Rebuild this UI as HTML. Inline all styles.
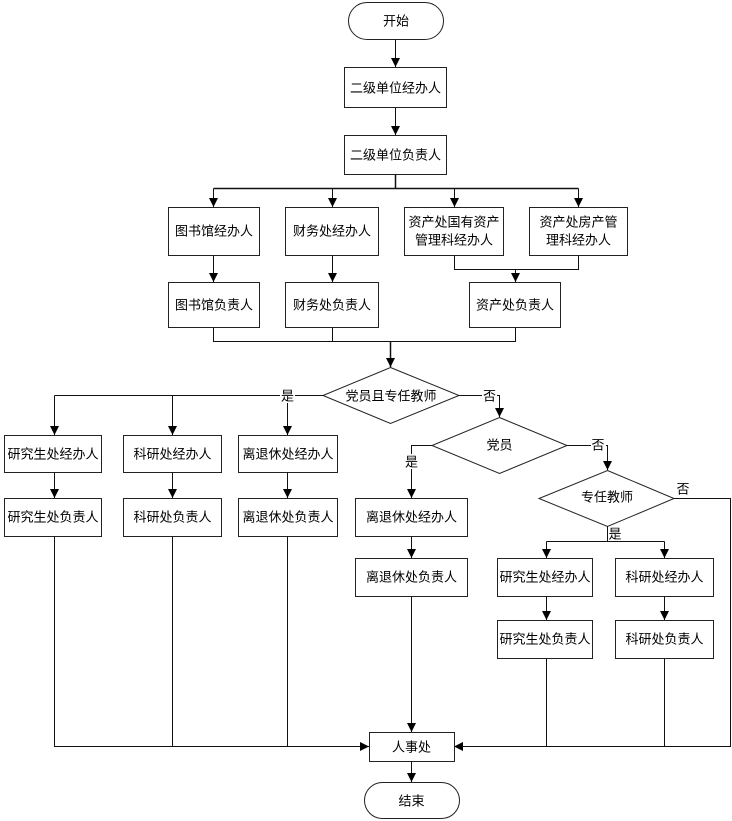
<!DOCTYPE html>
<html><head><meta charset="utf-8"><style>
html,body{margin:0;padding:0;background:#fff;}
svg{display:block;}
text{font-family:"Liberation Sans","Noto Sans CJK SC","WenQuanYi Zen Hei",sans-serif;font-size:13px;fill:#000;text-anchor:middle;dominant-baseline:central;}
.b{fill:#fff;stroke:#222;stroke-width:1;}
.l{fill:none;stroke:#111;stroke-width:1;}
.a{fill:#000;stroke:none;}
</style></head><body>
<svg width="732" height="821" viewBox="0 0 732 821" xmlns="http://www.w3.org/2000/svg">
<defs>
<marker id="ar" markerWidth="10" markerHeight="10" refX="9" refY="4.5" orient="auto" markerUnits="userSpaceOnUse">
<path d="M0,0 L9,4.5 L0,9 Z" fill="#000"/>
</marker>
</defs>

<!-- start -->
<rect class="b" x="348.5" y="2.5" width="95" height="37" rx="18.5"/>
<text x="396" y="21">开始</text>
<path class="l" d="M395.5 39.5 V67" marker-end="url(#ar)"/>

<rect class="b" x="344.5" y="67.5" width="102" height="40"/>
<text x="395.5" y="88">二级单位经办人</text>
<path class="l" d="M395.5 107.5 V135" marker-end="url(#ar)"/>

<rect class="b" x="344.5" y="135.5" width="102" height="39"/>
<text x="395.5" y="155">二级单位负责人</text>
<path class="l" d="M395.5 174.5 V188.5 M213.5 188.5 H578.5" style="stroke-width:1.5"/>
<path class="l" d="M213.5 188.5 V207" marker-end="url(#ar)"/>
<path class="l" d="M332.5 188.5 V207" marker-end="url(#ar)"/>
<path class="l" d="M454.5 188.5 V207" marker-end="url(#ar)"/>
<path class="l" d="M578.5 188.5 V207" marker-end="url(#ar)"/>

<!-- row1 -->
<rect class="b" x="168.5" y="207.5" width="91" height="48"/>
<text x="214" y="231">图书馆经办人</text>
<rect class="b" x="285.5" y="207.5" width="93" height="48"/>
<text x="332" y="231">财务处经办人</text>
<rect class="b" x="404.5" y="207.5" width="99" height="48"/>
<text x="454" y="222">资产处国有资产</text>
<text x="454" y="240">管理科经办人</text>
<rect class="b" x="529.5" y="207.5" width="98" height="48"/>
<text x="578.5" y="222">资产处房产管</text>
<text x="578.5" y="240">理科经办人</text>

<path class="l" d="M213.5 255.5 V282" marker-end="url(#ar)"/>
<path class="l" d="M332.5 255.5 V282" marker-end="url(#ar)"/>
<path class="l" d="M454.5 255.5 V269.5 H578.5 V255.5"/>
<path class="l" d="M515.5 269.5 V282" marker-end="url(#ar)"/>

<!-- row2 -->
<rect class="b" x="168.5" y="282.5" width="91" height="45"/>
<text x="214" y="305">图书馆负责人</text>
<rect class="b" x="285.5" y="282.5" width="93" height="45"/>
<text x="332" y="305">财务处负责人</text>
<rect class="b" x="469.5" y="282.5" width="91" height="45"/>
<text x="515" y="305">资产处负责人</text>

<path class="l" d="M213.5 327.5 V341.5 H515.5 V327.5 M332.5 327.5 V341.5"/>
<path class="l" d="M390.5 341.5 V367" marker-end="url(#ar)" style="stroke-width:1.5"/>

<!-- diamond 1 -->
<polygon class="b" points="390.5,367.5 459,395.5 390.5,423.5 323,395.5"/>
<text x="391" y="396">党员且专任教师</text>

<!-- 是 left -->
<path class="l" d="M323 395.5 H54.5"/>
<path class="l" d="M54.5 395.5 V435" marker-end="url(#ar)"/>
<path class="l" d="M172.5 395.5 V435" marker-end="url(#ar)"/>
<path class="l" d="M287.5 395.5 V435" marker-end="url(#ar)"/>
<rect x="280" y="388" width="15" height="15" fill="#fff"/>
<text x="287.5" y="396">是</text>

<rect class="b" x="4.5" y="435.5" width="97" height="37"/>
<text x="53" y="454">研究生处经办人</text>
<rect class="b" x="123.5" y="435.5" width="98" height="37"/>
<text x="172.5" y="454">科研处经办人</text>
<rect class="b" x="238.5" y="435.5" width="99" height="37"/>
<text x="288" y="454">离退休处经办人</text>

<path class="l" d="M54.5 472.5 V498" marker-end="url(#ar)"/>
<path class="l" d="M172.5 472.5 V498" marker-end="url(#ar)"/>
<path class="l" d="M287.5 472.5 V498" marker-end="url(#ar)"/>

<rect class="b" x="4.5" y="498.5" width="97" height="38"/>
<text x="53" y="517">研究生处负责人</text>
<rect class="b" x="123.5" y="498.5" width="98" height="38"/>
<text x="172.5" y="517">科研处负责人</text>
<rect class="b" x="238.5" y="498.5" width="99" height="38"/>
<text x="288" y="517">离退休处负责人</text>

<path class="l" d="M54.5 536.5 V746.5 H369 M172.5 536.5 V746.5 M287.5 536.5 V746.5"/>
<path class="l" d="M300 746.5 H369" marker-end="url(#ar)"/>

<!-- 否 from diamond 1 -->
<path class="l" d="M459 395.5 H499.5 V417" marker-end="url(#ar)"/>
<rect x="482" y="388" width="15" height="15" fill="#fff"/>
<text x="489.5" y="396">否</text>

<!-- diamond 2 -->
<polygon class="b" points="499.5,417.5 567,445.5 499.5,473.5 432,445.5"/>
<text x="499.5" y="445">党员</text>

<path class="l" d="M432 445.5 H411.5 V498" marker-end="url(#ar)"/>
<rect x="404" y="454" width="15" height="15" fill="#fff"/>
<text x="411.5" y="462">是</text>

<rect class="b" x="355.5" y="498.5" width="112" height="38"/>
<text x="411.5" y="517">离退休处经办人</text>
<path class="l" d="M411.5 536.5 V558" marker-end="url(#ar)"/>
<rect class="b" x="355.5" y="558.5" width="112" height="38"/>
<text x="411.5" y="577">离退休处负责人</text>
<path class="l" d="M411.5 596.5 V732" marker-end="url(#ar)"/>

<path class="l" d="M567 445.5 H607.5 V470" marker-end="url(#ar)"/>
<rect x="591" y="438" width="15" height="15" fill="#fff"/>
<text x="598" y="445">否</text>

<!-- diamond 3 -->
<polygon class="b" points="607.5,470.5 674,498.5 607.5,526.5 539,498.5"/>
<text x="607" y="497">专任教师</text>

<path class="l" d="M674 498.5 H730.5 V746.5 H454"/>
<path class="l" d="M520 746.5 H454" marker-end="url(#ar)"/>
<text x="683" y="489">否</text>

<path class="l" d="M607.5 526.5 V541.5 M546.5 541.5 H664.5"/>
<path class="l" d="M546.5 541.5 V558" marker-end="url(#ar)"/>
<path class="l" d="M664.5 541.5 V558" marker-end="url(#ar)"/>
<text x="615" y="534">是</text>

<rect class="b" x="497.5" y="558.5" width="95" height="38"/>
<text x="545" y="577">研究生处经办人</text>
<rect class="b" x="615.5" y="558.5" width="98" height="38"/>
<text x="664.5" y="577">科研处经办人</text>
<path class="l" d="M546.5 596.5 V620" marker-end="url(#ar)"/>
<path class="l" d="M664.5 596.5 V620" marker-end="url(#ar)"/>
<rect class="b" x="497.5" y="620.5" width="95" height="38"/>
<text x="545" y="639">研究生处负责人</text>
<rect class="b" x="615.5" y="620.5" width="98" height="38"/>
<text x="664.5" y="639">科研处负责人</text>
<path class="l" d="M546.5 658.5 V746.5 M664.5 658.5 V746.5"/>

<!-- 人事处 -->
<rect class="b" x="369.5" y="732.5" width="85" height="29"/>
<text x="411.5" y="747">人事处</text>
<path class="l" d="M411.5 761.5 V782" marker-end="url(#ar)"/>

<rect class="b" x="364.5" y="782.5" width="95" height="36" rx="18"/>
<text x="411.5" y="801">结束</text>
</svg>
</body></html>
